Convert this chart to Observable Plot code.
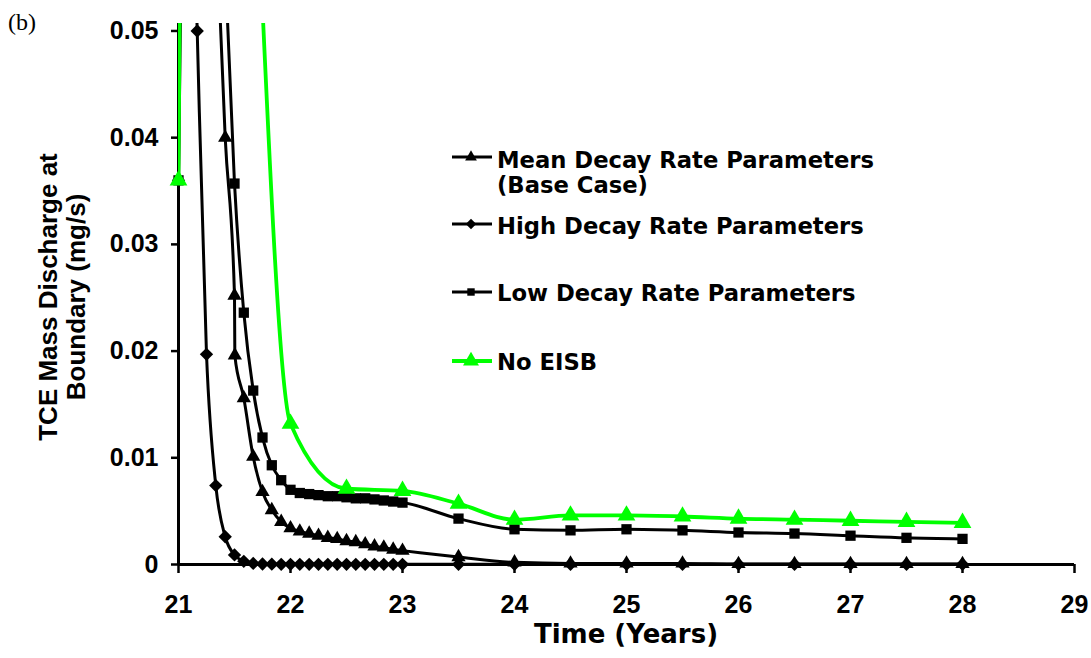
<!DOCTYPE html>
<html><head><meta charset="utf-8">
<script src="https://cdn.jsdelivr.net/npm/d3@7"></script>
<script src="https://cdn.jsdelivr.net/npm/@observablehq/plot@0.6"></script>
<style>
body{margin:0;background:#fff}
#chart{position:relative;width:1091px;height:658px}
</style>
</head><body><div id="chart"></div>
<script>
// ---- data ----
const seriesNames = ["Mean Decay Rate Parameters\n(Base Case)", "High Decay Rate Parameters", "Low Decay Rate Parameters", "No EISB"];
const seriesColors = ["#000000", "#000000", "#000000", "#00ff00"];
const seriesSymbols = ["triangle", "diamond2", "square", "triangle"];

const meanT = [21, 21.083, 21.167, 21.25, 21.333, 21.417, 21.5, 21.503, 21.583, 21.667, 21.75, 21.833, 21.917, 22, 22.083, 22.167, 22.25, 22.333, 22.417, 22.5, 22.583, 22.667, 22.75, 22.833, 22.917, 23, 23.5, 24, 24.5, 25, 25.5, 26, 26.5, 27, 27.5, 28];
const meanV = [0.036, 0.2, 0.13, 0.09, 0.061, 0.040, 0.0252, 0.0196, 0.0156, 0.0101, 0.0068, 0.0051, 0.0040, 0.0034, 0.0031, 0.0029, 0.0027, 0.0025, 0.0024, 0.0022, 0.0021, 0.0019, 0.0017, 0.0016, 0.0014, 0.0013, 0.0007, 0.0002, 0.0001, 0.0001, 0.0001, 0.00005, 0.00005, 0.00005, 0.00005, 0.00005];

const highT = [21, 21.083, 21.167, 21.25, 21.333, 21.417, 21.5, 21.583, 21.667, 21.75, 21.833, 21.917, 22, 22.083, 22.167, 22.25, 22.333, 22.417, 22.5, 22.583, 22.667, 22.75, 22.833, 22.917, 23, 23.5, 24, 24.5, 25, 25.5, 26, 26.5, 27, 27.5, 28];
const highV = [0.036, 0.085, 0.050, 0.0197, 0.0074, 0.0026, 0.0009, 0.0003, 0.0001, 0.00005, 0.00003, 0.00002, 0.00002, 0.00002, 0.00002, 0.00002, 0.00002, 0.00002, 0.00002, 0.00002, 0.00002, 0.00002, 0.00002, 0.00002, 0.00002, 0.00002, 0.00002, 0.00002, 0.00002, 0.00002, 0.00002, 0.00002, 0.00002, 0.00002, 0.00002];

const lowT = [21, 21.083, 21.167, 21.25, 21.333, 21.417, 21.5, 21.583, 21.667, 21.75, 21.833, 21.917, 22, 22.083, 22.167, 22.25, 22.333, 22.417, 22.5, 22.583, 22.667, 22.75, 22.833, 22.917, 23, 23.5, 24, 24.5, 25, 25.5, 26, 26.5, 27, 27.5, 28];
const lowV = [0.036, 0.2, 0.16, 0.12, 0.085, 0.056, 0.0357, 0.0236, 0.0163, 0.0119, 0.0093, 0.0079, 0.0070, 0.0067, 0.0066, 0.0065, 0.0064, 0.0064, 0.0063, 0.0062, 0.0062, 0.0061, 0.0060, 0.0059, 0.0058, 0.0043, 0.0033, 0.0032, 0.0033, 0.0032, 0.0030, 0.0029, 0.0027, 0.0025, 0.0024];

const noT = [21, 21.083, 21.5, 22, 22.5, 23, 23.5, 24, 24.5, 25, 25.5, 26, 26.5, 27, 27.5, 28];
const noV = [0.036, 0.12, 0.10, 0.0132, 0.0071, 0.0069, 0.0057, 0.0042, 0.0046, 0.0046, 0.0045, 0.0043, 0.0042, 0.0041, 0.0040, 0.0039];

const xTicks = [21, 22, 23, 24, 25, 26, 27, 28, 29];
const yTicks = [0, 0.01, 0.02, 0.03, 0.04, 0.05];
const yTickLabels = ["0", "0.01", "0.02", "0.03", "0.04", "0.05"];
const xTitle = "Time (Years)";
const yTitle = ["TCE Mass Discharge at", "Boundary (mg/s)"];
const panelTag = "(b)";

// ---- build table ----
const allT = [meanT, highT, lowT, noT];
const allV = [meanV, highV, lowV, noV];
const rows = [];
allT.forEach((ts, s) => ts.forEach((t, i) => rows.push({series: s, t, v: allV[s][i]})));

const AX = "Liberation Sans";
const LEG = "DejaVu Sans";
const W = 1091, H = 658;
const yMax = 0.0507;
const marks = [];
const dotR = [5.3, 6, 5.8, 6.6];
[0, 1, 2, 3].forEach(s => {
  const d = rows.filter(r => r.series === s);
  marks.push(Plot.line(d, {x: "t", y: "v", stroke: seriesColors[s], strokeWidth: s === 3 ? 3.8 : 3, curve: "monotone-x", clip: true}));
  marks.push(Plot.dot(d.filter(r => r.v <= yMax), {x: "t", y: "v", symbol: seriesSymbols[s], r: dotR[s], fill: seriesColors[s], stroke: "none"}));
});

const plot = Plot.plot({
  width: W, height: H,
  marginLeft: 178, marginRight: 17, marginTop: 23, marginBottom: 94,
  style: {fontFamily: AX, fontWeight: "bold", fontSize: "25px", background: "#fff", color: "#000", overflow: "visible"},
  x: {domain: [21, 29]},
  y: {domain: [0, yMax]},
  marks: [
    Plot.axisY({ticks: yTicks, tickFormat: d => yTickLabels[yTicks.indexOf(d)], tickSize: 7, tickPadding: 13, strokeWidth: 2.5, fontSize: 25, fontWeight: "bold", label: null}),
    Plot.axisX({ticks: xTicks, tickFormat: d => String(d), tickSize: 9, tickPadding: 22, strokeWidth: 2.5, fontSize: 25, fontWeight: "bold", label: null}),
    Plot.ruleX([21], {strokeWidth: 3}),
    Plot.ruleY([0], {strokeWidth: 3}),
    ...marks
  ]
});

document.getElementById("chart").appendChild(plot);
const svg = d3.select(plot);

// panel tag
svg.append("text").attr("x", 8).attr("y", 30).attr("text-anchor", "start").attr("font-family", "Liberation Serif").attr("font-weight", "normal").attr("font-size", 24).text(panelTag);

// axis titles
svg.append("text").attr("x", (178 + 1074) / 2).attr("y", 643).attr("text-anchor", "middle").attr("font-size", 26).attr("font-weight", "bold").attr("font-family", LEG).text(xTitle);
const yt = svg.append("g").attr("transform", "translate(62,297) rotate(-90)");
yTitle.forEach((line, i) => {
  yt.append("text").attr("x", 0).attr("y", (i - 0.5) * 28 + 9).attr("text-anchor", "middle").attr("font-size", 26).attr("font-weight", "bold").attr("font-family", AX).text(line);
});

// legend
const legendText = [160, 226, 293, 362];
const legendLine = [157, 224, 292, 361];
const legendSym = [60, 70, 55, 110];
const lg = svg.append("g");
seriesNames.forEach((name, s) => {
  const y = legendLine[s];
  lg.append("line").attr("x1", 452).attr("x2", 492).attr("y1", y).attr("y2", y).attr("stroke", seriesColors[s]).attr("stroke-width", s === 3 ? 3.8 : 3);
  const sym = {triangle: d3.symbolTriangle, diamond2: d3.symbolDiamond2, square: d3.symbolSquare}[seriesSymbols[s]];
  lg.append("path").attr("d", d3.symbol(sym, legendSym[s])()).attr("transform", `translate(471,${y})`).attr("fill", seriesColors[s]);
  name.split("\n").forEach((ln, j) => {
    lg.append("text").attr("x", 497).attr("y", legendText[s] + 8 + j * 25).attr("text-anchor", "start").attr("font-family", LEG).attr("font-weight", "bold").attr("font-size", 22.7).text(ln);
  });
});
</script>
</body></html>
